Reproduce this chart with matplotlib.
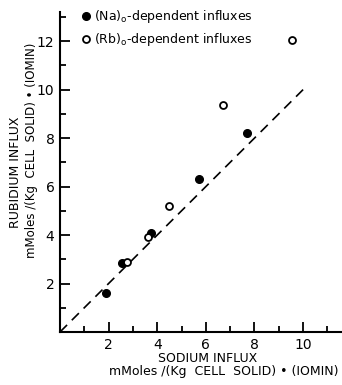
import matplotlib
matplotlib.use("Agg")
import matplotlib.pyplot as plt
from matplotlib.ticker import MultipleLocator

# (Na)o-dependent influxes (filled)
na_sodium = [1.9, 2.55, 3.75, 5.7, 7.7]
na_rubidium = [1.6, 2.85, 4.1, 6.3, 8.2]

# (Rb)o-dependent influxes (open)
rb_sodium = [2.75, 3.6, 4.5, 6.7, 9.55]
rb_rubidium = [2.9, 3.9, 5.2, 9.35, 12.05]

# identity line
line_x = [0, 10]
line_y = [0, 10]

x_ticks = [2, 4, 6, 8, 10]
y_ticks = [2, 4, 6, 8, 10, 12]

plt.rcParams['font.family'] = ['DejaVu Sans']

fig = plt.figure(figsize=(3.42, 3.85), dpi=100)
ax = fig.add_axes([0.1754, 0.1377, 0.8246, 0.831])

ax.plot(line_x, line_y, color='black', linestyle=(0, (6, 4)), linewidth=1.2)
ax.plot(na_sodium, na_rubidium, 'o', color='black', markersize=5.5,
        label=r'$(\mathrm{Na})_\mathrm{o}$-dependent influxes')
ax.plot(rb_sodium, rb_rubidium, 'o', markerfacecolor='white', markeredgecolor='black',
        markeredgewidth=1.3, markersize=5, label=r'$(\mathrm{Rb})_\mathrm{o}$-dependent influxes')

ax.set_xlim(0, 11.6)
ax.set_ylim(0, 13.2)
ax.set_xticks(x_ticks)
ax.set_yticks(y_ticks)
ax.xaxis.set_minor_locator(MultipleLocator(1))
ax.yaxis.set_minor_locator(MultipleLocator(1))
ax.tick_params(which='major', direction='in', length=7, width=1.3, labelsize=10, pad=4)
ax.tick_params(which='minor', direction='in', length=4, width=1.3)

for side in ['top', 'right']:
    ax.spines[side].set_visible(False)
for side in ['left', 'bottom']:
    ax.spines[side].set_linewidth(1.5)

ax.legend(loc='upper left', bbox_to_anchor=(0.045, 1.035), frameon=False, fontsize=9,
          handletextpad=0.1, borderaxespad=0.2, labelspacing=0.45, handlelength=1)

fig.text(0.606, 0.07, 'SODIUM INFLUX', ha='center', va='center', fontsize=9)
fig.text(0.655, 0.034, 'mMoles /(Kg  CELL  SOLID) \u2022 (IOMIN)', ha='center', va='center', fontsize=9)
fig.text(0.045, 0.553, 'RUBIDIUM INFLUX', ha='center', va='center', rotation=90, fontsize=9)
fig.text(0.093, 0.61, 'mMoles /(Kg  CELL  SOLID) \u2022 (IOMIN)', ha='center', va='center',
         rotation=90, fontsize=8.5)

fig.savefig('out.png', dpi=100)
